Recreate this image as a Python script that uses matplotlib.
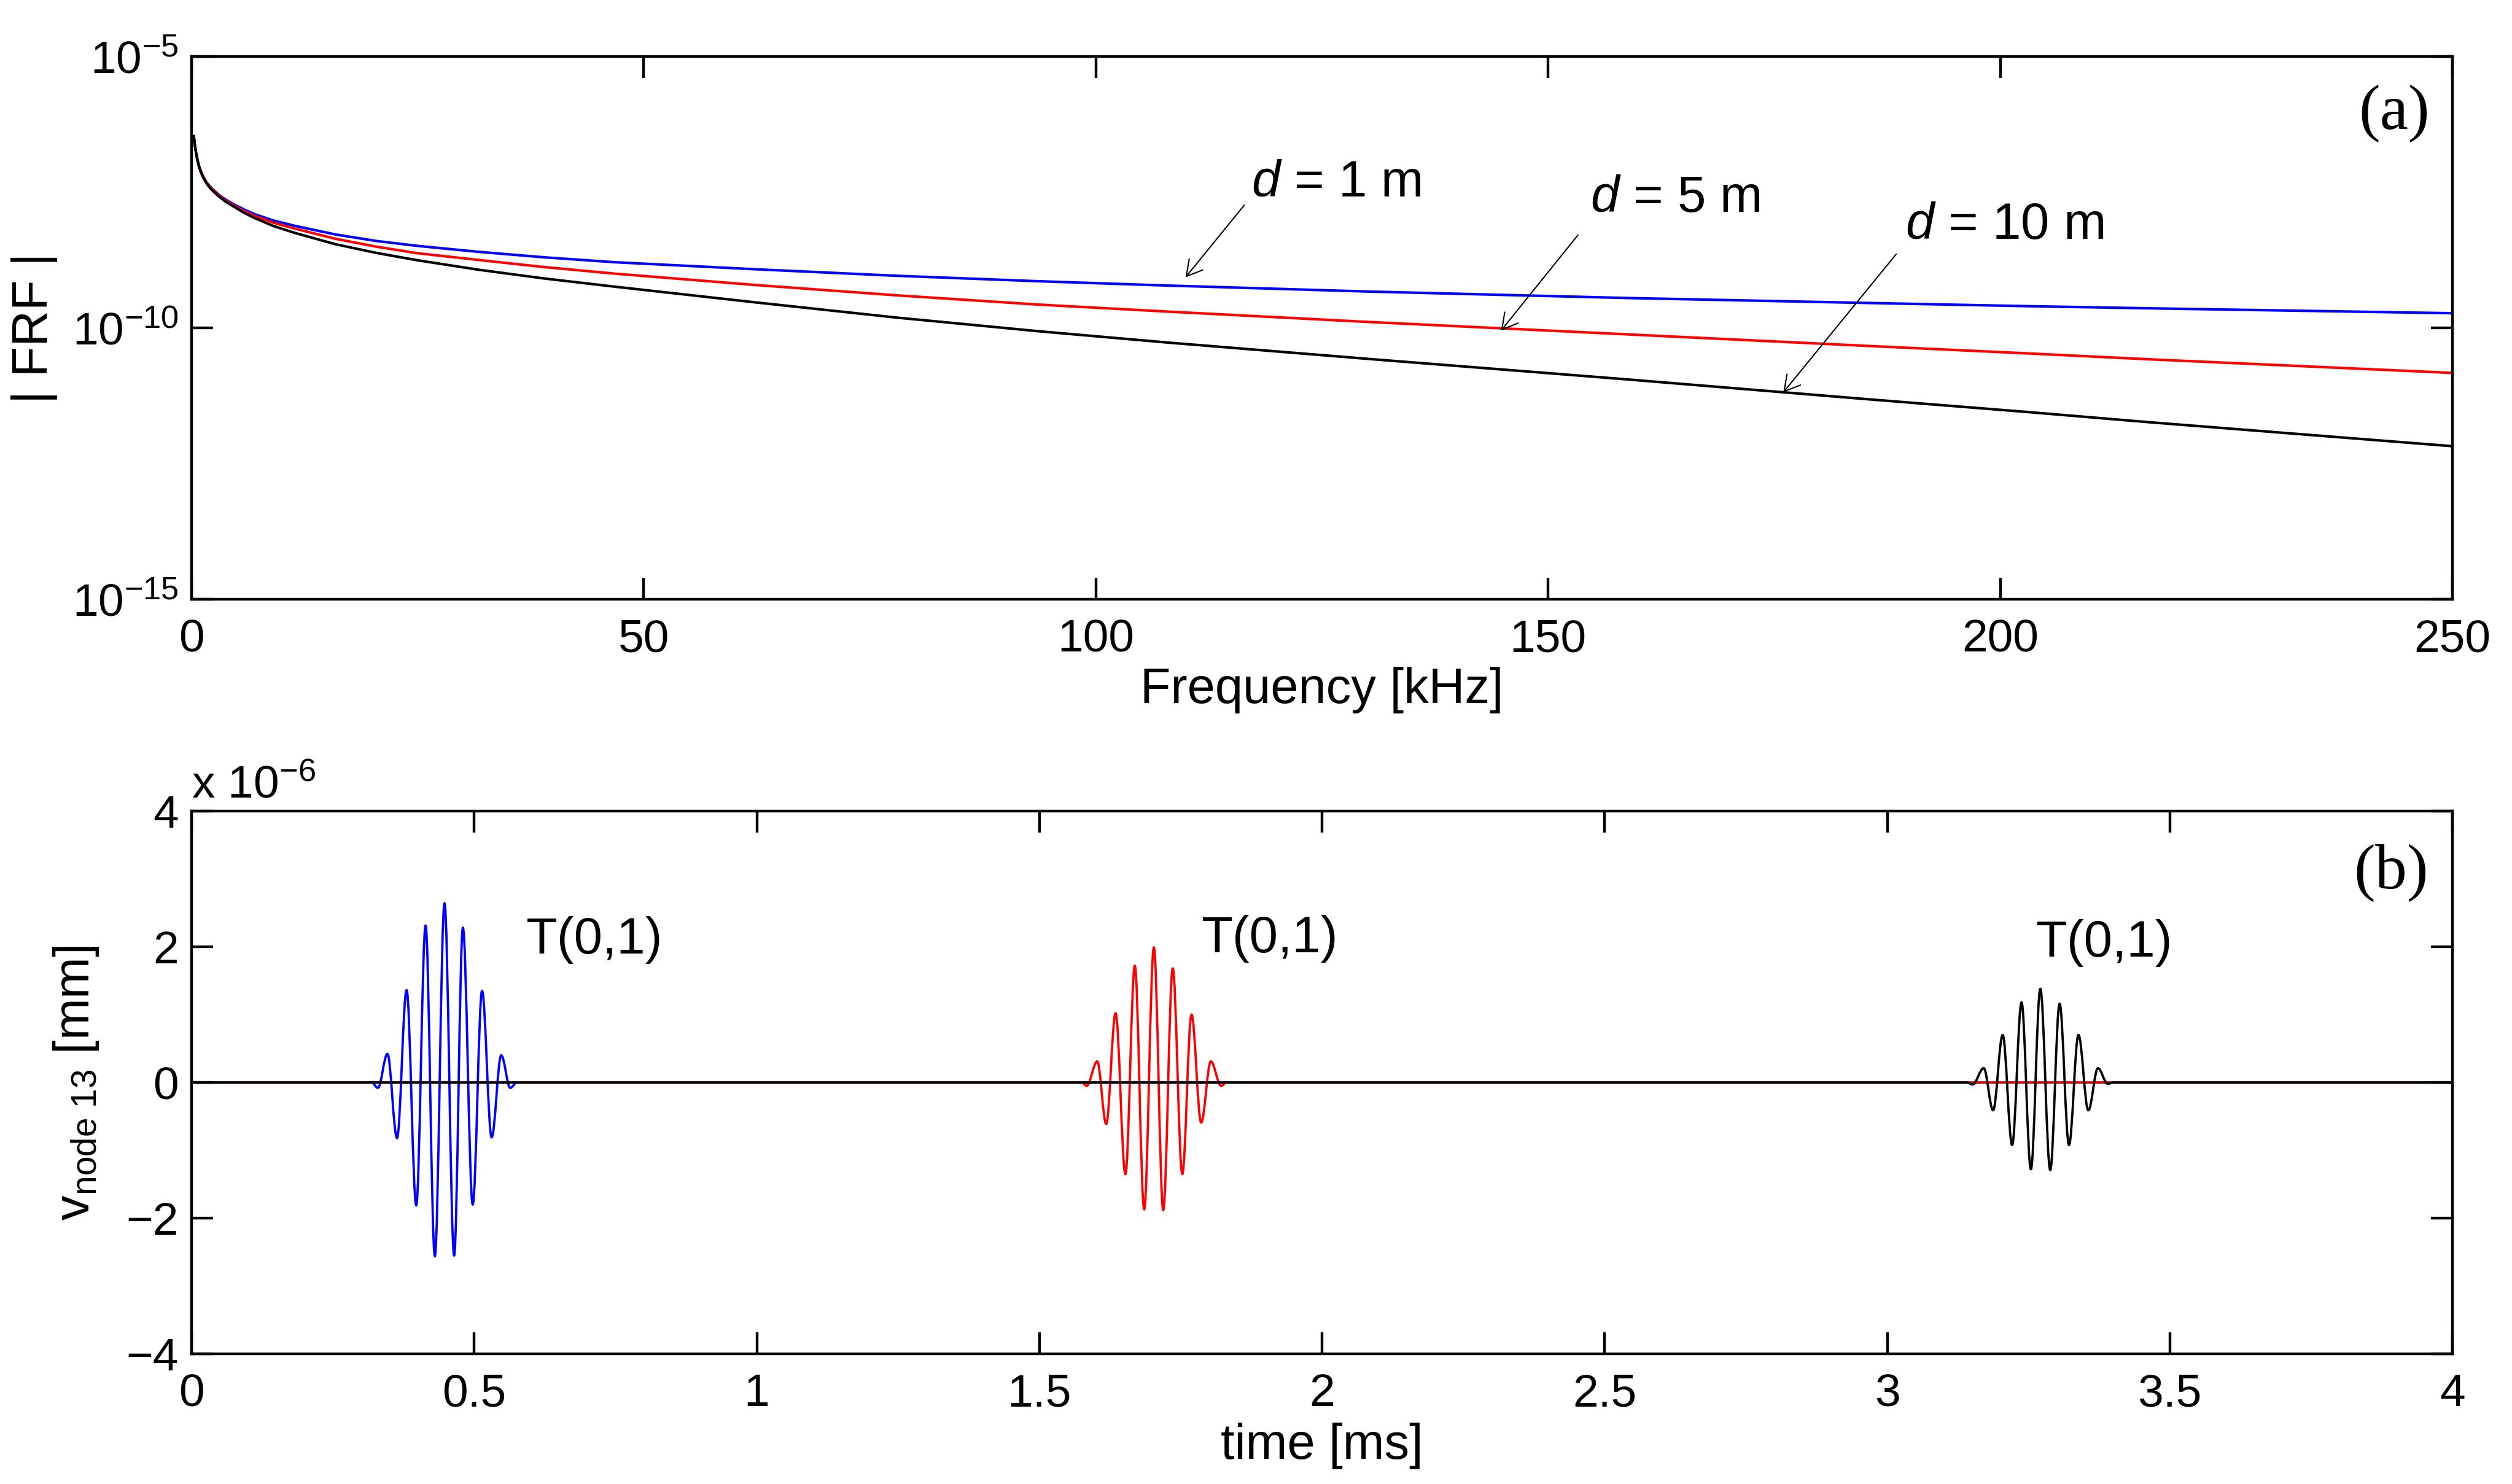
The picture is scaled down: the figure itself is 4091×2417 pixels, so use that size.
import numpy as np
import matplotlib
matplotlib.use("Agg")
import matplotlib.pyplot as plt
from matplotlib.path import Path
from matplotlib.patches import PathPatch
from matplotlib.ticker import FixedLocator, NullLocator

plt.rcParams['font.family'] = ['Liberation Sans', 'DejaVu Sans']
plt.rcParams['mathtext.fontset'] = 'custom'
plt.rcParams['mathtext.rm'] = 'Liberation Sans'
plt.rcParams['mathtext.it'] = 'Liberation Sans:italic'
plt.rcParams['mathtext.bf'] = 'Liberation Sans:bold'

# ---- (a) FRF magnitude (log10 of |FRF|) ----
freq_khz = [0.25, 0.33, 0.43, 0.54, 0.66, 0.8, 1.0, 1.2, 1.45, 1.75, 2.13, 2.5,
            3.03, 3.8, 4.62, 5.7, 6.88, 9.0, 11.41, 15.94, 20.47, 25.0, 31.79,
            39.0, 46.74, 62.34, 77.93, 93.53, 107.9, 130.0, 158.8, 185.0, 203.0,
            216.6, 250.0]
frf_log_d1 = [-6.47, -6.60, -6.71, -6.82, -6.91, -7.00, -7.10, -7.18, -7.26, -7.34,
              -7.41, -7.47, -7.55, -7.64, -7.72, -7.81, -7.90, -8.02, -8.12, -8.28,
              -8.40, -8.49, -8.60, -8.70, -8.79, -8.92, -9.04, -9.14, -9.22, -9.33,
              -9.45, -9.54, -9.60, -9.64, -9.73]
frf_log_d5 = [-6.47, -6.60, -6.71, -6.82, -6.91, -7.01, -7.11, -7.19, -7.27, -7.35,
              -7.42, -7.48, -7.56, -7.66, -7.74, -7.84, -7.93, -8.06, -8.17, -8.36,
              -8.505, -8.625, -8.75, -8.88, -9.00, -9.21, -9.40, -9.57, -9.70, -9.89,
              -10.12, -10.33, -10.47, -10.58, -10.83]
frf_log_d10 = [-6.47, -6.60, -6.71, -6.82, -6.92, -7.02, -7.12, -7.20, -7.28, -7.36,
               -7.44, -7.50, -7.58, -7.68, -7.76, -7.87, -7.97, -8.12, -8.25, -8.46,
               -8.62, -8.755, -8.93, -9.09, -9.24, -9.53, -9.81, -10.06, -10.27, -10.57,
               -10.95, -11.31, -11.55, -11.74, -12.18]

labels_a = [r'$d$ = 1 m', r'$d$ = 5 m', r'$d$ = 10 m']
label_pos_a = [(117.2, -7.58), (154.7, -7.86), (189.5, -8.36)]
arrow_tail_a = [(116.4, -7.74), (153.3, -8.29), (188.5, -8.64)]
arrow_tip_a = [(109.9, -9.07), (144.8, -10.05), (176.0, -11.19)]

# ---- (b) time signals: extrema of each wave packet (x 1e-6 mm) ----
t_d1 = [0, 0.3185, 0.3296, 0.3465, 0.3635, 0.3804, 0.3975, 0.4140, 0.4304, 0.4475,
        0.4645, 0.4800, 0.4974, 0.5139, 0.5309, 0.5478, 0.5639, 0.5755, 4.0]
v_d1 = [0, 0, -0.08, 0.42, -0.82, 1.36, -1.81, 2.31, -2.56, 2.64,
        -2.55, 2.28, -1.80, 1.35, -0.81, 0.40, -0.08, 0, 0]
t_d5 = [0, 1.5752, 1.5836, 1.6023, 1.6182, 1.6348, 1.6522, 1.6688, 1.6854, 1.7025,
        1.7191, 1.7359, 1.7528, 1.7691, 1.7862, 1.8033, 1.8215, 1.8311, 4.0]
v_d5 = [0, 0, -0.05, 0.31, -0.61, 1.02, -1.35, 1.72, -1.87, 1.99,
        -1.88, 1.68, -1.35, 1.00, -0.59, 0.31, -0.05, 0, 0]
t_d10 = [0, 3.1407, 3.1511, 3.1707, 3.1873, 3.2043, 3.2210, 3.2376, 3.2542, 3.2709,
         3.2884, 3.3050, 3.3216, 3.3383, 3.3558, 3.3728, 3.3902, 3.4007, 4.0]
v_d10 = [0, 0, -0.03, 0.21, -0.41, 0.70, -0.92, 1.18, -1.28, 1.38,
         -1.29, 1.16, -0.92, 0.70, -0.41, 0.21, -0.02, 0, 0]

mode_label = 'T(0,1)'
mode_pos = [(0.591, 1.905), (1.786, 1.92), (3.262, 1.855)]

colors = ['#0000ff', '#ff0000', '#000000']

TICK_FS = 18
LABEL_FS = 19.5
TEXT_FS = 20


def style_axes(ax):
    for sp in ax.spines.values():
        sp.set_linewidth(1.05)
    ax.tick_params(which='major', direction='in', top=True, right=True,
                   length=8.5, width=1.05, labelsize=TICK_FS, pad=5)
    ax.tick_params(axis='x', pad=7.5)
    ax.tick_params(which='minor', length=0)


def packet_path(t, v, k=0.363):
    # smooth half-waves between consecutive extrema (horizontal tangents)
    verts = [(t[0], v[0])]
    codes = [Path.MOVETO]
    for i in range(1, len(t)):
        dt = t[i] - t[i - 1]
        verts += [(t[i - 1] + k * dt, v[i - 1]), (t[i] - k * dt, v[i]), (t[i], v[i])]
        codes += [Path.CURVE4] * 3
    return Path(verts, codes)


fig = plt.figure(figsize=(4091 / 300, 2417 / 300), dpi=300)

# ---------------- panel (a) ----------------
ax1 = fig.add_axes([0.07627, 0.59619, 0.90002, 0.36574])
for logs, c in zip([frf_log_d1, frf_log_d5, frf_log_d10], colors):
    ax1.plot(freq_khz, 10.0 ** np.array(logs), color=c, lw=1.0)
ax1.set_yscale('log')
ax1.set_xlim(0, 250)
ax1.set_ylim(1e-15, 1e-5)
ax1.set_xticks([0, 50, 100, 150, 200, 250])
ax1.set_xticklabels(['0', '50', '100', '150', '200', '250'])
ax1.yaxis.set_major_locator(FixedLocator([1e-15, 1e-10, 1e-5]))
ax1.yaxis.set_minor_locator(NullLocator())
ax1.set_yticklabels([r'$10^{-15}$', r'$10^{-10}$', r'$10^{-5}$'])
style_axes(ax1)

for txt, (x, y), tail, tip in zip(labels_a, label_pos_a, arrow_tail_a, arrow_tip_a):
    ax1.text(x, 10.0 ** y, txt, fontsize=TEXT_FS, ha='left', va='baseline')
    ax1.annotate('', xy=(tip[0], 10.0 ** tip[1]), xytext=(tail[0], 10.0 ** tail[1]),
                 arrowprops=dict(arrowstyle='->, head_length=0.3, head_width=0.17',
                                 lw=0.5, color='k', shrinkA=0, shrinkB=0,
                                 mutation_scale=20))

ax1.text(0.9899, 0.8665, '(a)', transform=ax1.transAxes, ha='right', va='baseline',
         fontsize=25, family='Liberation Serif')

# ---------------- panel (b) ----------------
ax2 = fig.add_axes([0.07627, 0.08771, 0.90002, 0.36574])
for t, v, c in zip([t_d1, t_d5, t_d10], [v_d1, v_d5, v_d10], colors):
    ax2.add_patch(PathPatch(packet_path(t, v), fill=False, edgecolor=c, lw=0.9))
ax2.set_xlim(0, 4)
ax2.set_ylim(-4, 4)
ax2.set_xticks([0, 0.5, 1, 1.5, 2, 2.5, 3, 3.5, 4])
ax2.set_xticklabels(['0', '0.5', '1', '1.5', '2', '2.5', '3', '3.5', '4'])
ax2.set_yticks([-4, -2, 0, 2, 4])
ax2.set_yticklabels(['\u22124', '\u22122', '0', '2', '4'])
style_axes(ax2)

for (x, y) in mode_pos:
    ax2.text(x, y, mode_label, fontsize=TEXT_FS, ha='left', va='baseline')

ax2.text(0.9894, 0.8575, '(b)', transform=ax2.transAxes, ha='right', va='baseline',
         fontsize=25, family='Liberation Serif')

# exponent note of the y axis
fig.text(0.0763, 0.4623, r'x $10^{-6}$', fontsize=TICK_FS, ha='left', va='baseline')

# axis labels
fig.text(0.5263, 0.5263, 'Frequency [kHz]', fontsize=LABEL_FS, ha='center', va='baseline')
fig.text(0.5263, 0.0170, 'time [ms]', fontsize=LABEL_FS, ha='center', va='baseline')
fig.text(0.0137, 0.7791, '| FRF |', fontsize=LABEL_FS, rotation=90, ha='center', va='center')
fig.text(0.0302, 0.2702, r'v$_{\mathrm{node\ 13}}$ [mm]', fontsize=LABEL_FS,
         rotation=90, ha='center', va='center')

fig.savefig('out.png', dpi=300, facecolor='white')
